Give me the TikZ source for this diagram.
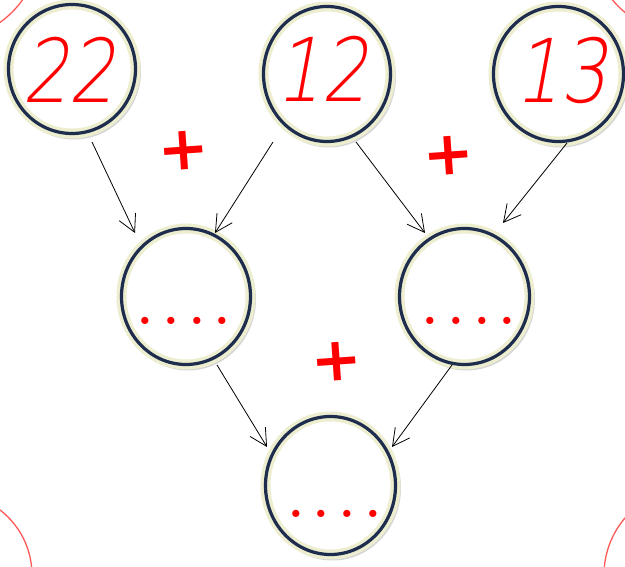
\documentclass[tikz,border=0pt]{standalone}
\usepackage{fontspec}
\newfontfamily\hand{DejaVu Sans ExtraLight}[FakeSlant=0.22]
\newfontfamily\plusfont{DejaVu Sans}
\usetikzlibrary{shapes.geometric,arrows.meta,calc}
\definecolor{navy}{HTML}{1E2D4E}
\definecolor{glow}{HTML}{EDEDCF}
\definecolor{arcred}{HTML}{FF5A5A}
\begin{document}
\begin{tikzpicture}[x=1pt,y=1pt,
 bub/.style={ellipse, inner sep=0pt, line width=3.2pt, draw=navy,
   preaction={draw=black, opacity=0.16, line width=7pt, transform canvas={xshift=2pt,yshift=-2.5pt}},
   preaction={fill=white},
   preaction={draw=glow, line width=10pt}},
 num/.style={text=red, font=\hand\fontsize{88}{88}\selectfont, inner sep=0pt},
 dotrow/.style={text=red, font=\bfseries\fontsize{50}{50}\selectfont, inner sep=0pt, anchor=base},
 plus/.style={text=red, font=\plusfont\bfseries\itshape\fontsize{61}{61}\selectfont, inner sep=0pt, rotate=4},
 conn/.style={line width=0.8pt, -{Straight Barb[length=17pt,width=18pt,line width=0.8pt]}},
 arc/.style={draw=arcred, line width=1.3pt}
 ]
\useasboundingbox (0,0) rectangle (625,566);
\fill[white] (0,0) rectangle (625,566);
\begin{scope}
\clip (0,0) rectangle (625,566);
\draw[arc] (-50,-9) circle[radius=82];
\draw[arc] (692,-9) circle[radius=88];
\draw[arc] (-60,626) circle[radius=102];
\draw[arc] (680,621) circle[radius=87];
\end{scope}
% bubbles
\node[bub, minimum width=127pt, minimum height=129pt] (e22) at (72,497) {};
\node[bub, minimum width=127pt, minimum height=135pt] (e12) at (327,492) {};
\node[bub, minimum width=130pt, minimum height=135pt] (e13) at (558.5,492) {};
\node[bub, minimum width=129pt, minimum height=136pt] (mL) at (186,269.5) {};
\node[bub, minimum width=130pt, minimum height=136pt] (mR) at (464.5,269.5) {};
\node[bub, minimum width=130pt, minimum height=138pt] (bot) at (330.5,80.5) {};
% numbers
\node[num] (t22) at (68.5,496) {\scalebox{0.83}[1]{22}};
\node[num] (t12) at (321.5,497) {\scalebox{0.83}[1]{12}};
\node[num] (t13) at (561,496) {\scalebox{0.83}[1]{13}};
% dots
\newcommand{\fourdots}{\makebox[25.7pt]{.}\makebox[25.7pt]{.}\makebox[25.7pt]{.}\makebox[25.7pt]{.}}
\node[dotrow] (dL) at (184,241.5) {\fourdots};
\node[dotrow] (dR) at (469,241.5) {\fourdots};
\node[dotrow] (dB) at (334.5,48.5) {\fourdots};
% plus signs
\node[plus] (p1) at (184,415) {+};
\node[plus] (p2) at (449,410) {+};
\node[plus] (p3) at (337,204) {+};
% connectors
\draw[conn] ($(e22)+(20,-73)$) -- ($(mL)+(-51,63.5)$);
\draw[conn] ($(e12)+(-54,-68)$) -- ($(mL)+(29,63.5)$);
\draw[conn] ($(e12)+(29,-68)$) -- ($(mR)+(-39.5,63.5)$);
\draw[conn] ($(e13)+(8.5,-69)$) -- ($(mR)+(38.5,73.5)$);
\draw[conn] ($(mL)+(31,-68.5)$) -- ($(bot)+(-63.5,38.5)$);
\draw[conn] ($(mR)+(-12.5,-68.5)$) -- ($(bot)+(61.5,38.5)$);
\end{tikzpicture}
\end{document}
